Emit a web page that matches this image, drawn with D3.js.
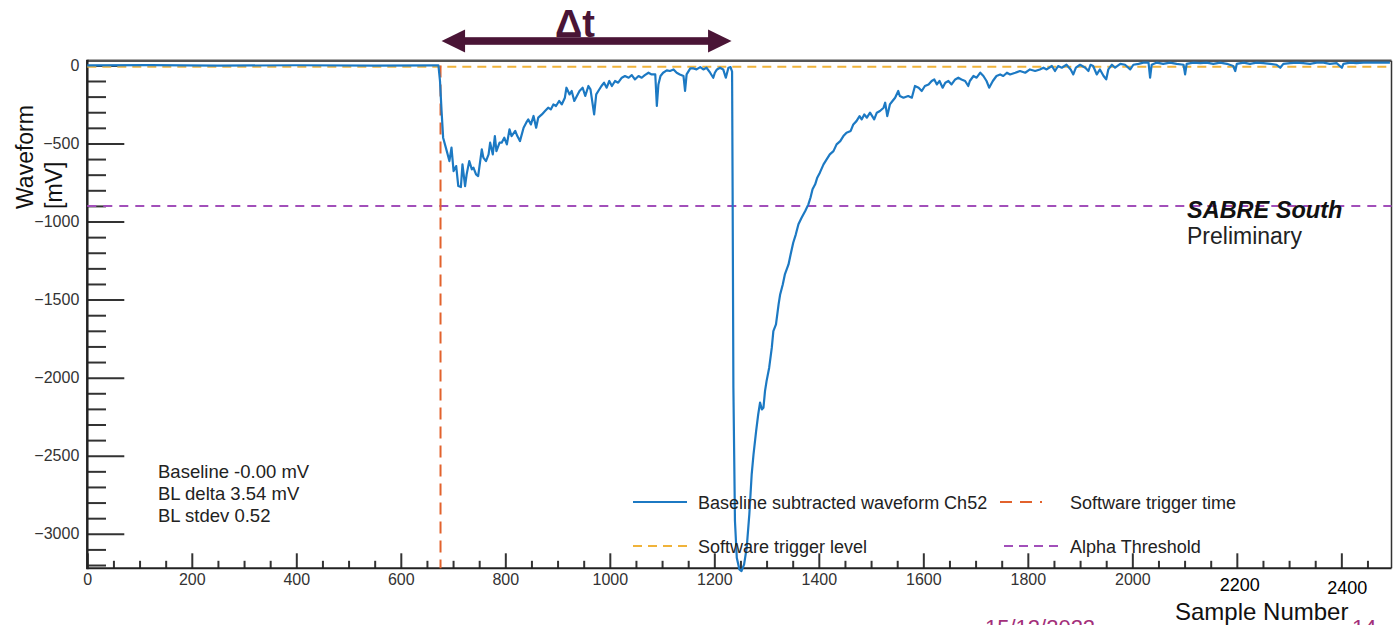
<!DOCTYPE html>
<html>
<head>
<meta charset="utf-8">
<script src="https://cdn.jsdelivr.net/npm/d3@7"></script>
<style>
  body { margin: 0; background: #fff; }
  svg { display: block; }
  text { font-family: "Liberation Sans", Arial, Helvetica, sans-serif; }
</style>
</head>
<body>
<svg id="chart" width="1399" height="625"></svg>
<script>
// waveform (sample number, mV)
var sampleNumber = [
  0, 120, 250, 400, 550, 668, 672,
  675, 678, 681, 688, 693, 697, 701, 706, 710, 715, 718, 723, 726, 731, 736, 739, 744, 748,
  755, 758, 763, 768, 771, 776, 780, 783, 789, 793, 798, 803, 808, 812, 819, 823, 828, 835,
  840, 844, 849, 854, 859, 863, 870, 876, 882, 887, 892, 897, 903, 908, 914, 917, 923, 927,
  932, 937, 942, 948, 953, 959, 963, 970, 974, 978, 984, 989, 994, 999, 1004, 1010, 1016,
  1023, 1029, 1036, 1042, 1048, 1055, 1061, 1067, 1074, 1080, 1087, 1090, 1093, 1097, 1102,
  1109, 1115, 1122, 1128, 1134, 1141, 1144, 1147, 1154, 1160, 1166, 1173, 1179, 1185, 1192,
  1198, 1201, 1205, 1211, 1217, 1222, 1227, 1231, 1234,
  1235, 1236.5, 1239.5, 1243, 1248, 1252, 1257, 1262, 1267, 1271.5, 1275, 1280, 1284, 1287.5,
  1291, 1294, 1297, 1300, 1305, 1310, 1313, 1318, 1323, 1326, 1331, 1335, 1342, 1346, 1351,
  1356, 1361, 1367, 1374, 1380, 1384, 1388, 1393, 1397, 1402, 1409, 1415, 1421, 1428, 1434,
  1441, 1447, 1453, 1461, 1466, 1472, 1478, 1482, 1487, 1492, 1498, 1506, 1511, 1517, 1524,
  1527, 1531, 1536, 1541, 1546, 1552,
  1555, 1562, 1571, 1578, 1584, 1591, 1597, 1603, 1610, 1616, 1621, 1626, 1631, 1637, 1642,
  1648, 1654, 1661, 1667, 1673, 1680, 1686, 1689, 1696, 1702, 1709, 1715, 1721, 1726, 1733,
  1740, 1747, 1753, 1760, 1766, 1776, 1785, 1795, 1804, 1814, 1823, 1830, 1836, 1846, 1852,
  1858, 1865, 1874, 1882, 1887, 1892, 1900, 1910, 1916, 1920, 1925, 1932, 1938, 1945, 1950,
  1954, 1961, 1967, 1977, 1986, 1996, 2002, 2012, 2021, 2031, 2034, 2037, 2047, 2059, 2072,
  2085, 2098, 2101, 2104, 2117, 2130, 2142, 2155, 2168, 2181, 2193, 2197, 2200, 2213, 2225,
  2238, 2251, 2264, 2276, 2283, 2289, 2302, 2315, 2327, 2340, 2353, 2366, 2378, 2391, 2401,
  2404, 2417, 2429, 2442, 2455, 2468, 2481, 2493
];
var waveformMV = [
  0, 2, -2, 1, -1, 0, 0,
  -100, -292, -463, -549, -613, -527, -677, -645, -773, -779, -634, -773, -698, -613, -666, -655, -698, -709,
  -538, -591, -613, -570, -495, -570, -453, -549, -495, -495, -463, -506, -410, -453, -420, -453, -485, -399,
  -367, -346, -378, -324, -399, -335, -314, -292, -271, -282, -250, -260, -228, -250, -207, -143, -186, -164,
  -228, -196, -164, -143, -196, -132, -154, -314, -186, -164, -132, -111, -143, -100, -132, -100, -111,
  -79, -68, -79, -62, -90, -68, -79, -62, -47, -58, -58, -260, -122, -68, -47,
  -32, -36, -26, -47, -58, -68, -164, -58, -19, -19, -26, -11, -26, -15, -47,
  -79, -47, -26, -15, -26, -79, -15, -11, -40,
  -783, -2065, -2918, -3153, -3228, -3239, -3196, -3089, -2876, -2620, -2492, -2342, -2235, -2160,
  -2203, -2193, -2086, -2022, -1936, -1808, -1702, -1659, -1531, -1467, -1403, -1339, -1275, -1211, -1136,
  -1082, -1018, -976, -933, -890, -848, -794, -762, -719, -687, -634, -602, -570, -549, -506,
  -485, -453, -431, -420, -378, -357, -325, -346, -314, -335, -303, -346, -303, -292, -271,
  -239, -325, -250, -228, -207, -164,
  -196, -207, -196, -207, -132, -143, -164, -132, -122, -100, -90, -122, -100, -143, -111,
  -100, -122, -90, -79, -90, -100, -132, -100, -68, -79, -47, -68, -100, -143, -100,
  -68, -58, -68, -47, -58, -47, -36, -47, -26, -36, -26, -15, -26, -4, -36,
  -4, -15, 4, -26, -58, -15, 4, -15, -36, 4, -4, -58, -26, -68, -90,
  -26, 4, -15, 10, 4, -26, 4, 10, 18, 18, -79, 4, 18, 10, 18,
  10, 4, -58, 10, 18, 14, 18, 10, 18, 10, -4, -36, 10, 18, 10,
  18, 14, 10, 4, -15, 10, 14, 18, 14, 10, 18, 18, 10, 14, -15,
  10, 18, 14, 18, 18, 18, 18, 18
];

var xTicks = [0, 200, 400, 600, 800, 1000, 1200, 1400, 1600, 1800, 2000, 2200, 2400];
var xLabelled = [0, 200, 400, 600, 800, 1000, 1200, 1400, 1600, 1800, 2000];
var xExtraLabels = [2200, 2400];
var yTicks = [0, -500, -1000, -1500, -2000, -2500, -3000];

var triggerTime = 676;
var triggerLevel = -8;
var alphaThreshold = -900;
var deltaT = [678, 1233];

var statsLines = ["Baseline -0.00 mV", "BL delta 3.54 mV", "BL stdev 0.52"];
var legendLabels = ["Baseline subtracted waveform Ch52", "Software trigger time",
                    "Software trigger level", "Alpha Threshold"];

var blue = "#1c79c3", orange = "#e2622c", yellow = "#f0b33a", purple = "#a24fba";

var svg = d3.select("#chart");

var x = d3.scaleLinear().domain([0, 2496]).range([87.3, 1391.5]);
var y = d3.scaleLinear().domain([30, -3221]).range([60.7, 568.3]);

// y axis, ticks pointing into the frame
var yMinor = d3.range(0, -3201, -100).filter(function(v) { return v % 500 != 0; });
svg.append("g")
  .attr("transform", "translate(" + x(0) + ",0)")
  .call(d3.axisLeft(y).tickValues(yMinor).tickSize(-18.7).tickFormat(""))
  .call(function(g) { g.select(".domain").remove(); })
  .selectAll("line").attr("stroke", "#333").attr("stroke-width", 2);

var yAx = svg.append("g")
  .attr("transform", "translate(" + x(0) + ",0)")
  .call(d3.axisLeft(y).tickValues(yTicks).tickSize(-37).tickPadding(8)
    .tickFormat(function(d) { return d == 0 ? "0" : "\u2212" + Math.abs(d); }));
yAx.select(".domain").remove();
yAx.selectAll("line").attr("stroke", "#333").attr("stroke-width", 2);
yAx.selectAll("text").attr("font-size", 16).attr("fill", "#333")
  .attr("font-family", "'Liberation Sans', Arial, sans-serif");

// x axis
var xMinor = d3.range(0, 2451, 50).filter(function(v) { return v % 200 != 0; });
svg.append("g")
  .attr("transform", "translate(0," + y(-3221) + ")")
  .call(d3.axisBottom(x).tickValues(xMinor).tickSize(-7.5).tickFormat(""))
  .call(function(g) { g.select(".domain").remove(); })
  .selectAll("line").attr("stroke", "#333").attr("stroke-width", 2);

var xAx = svg.append("g")
  .attr("transform", "translate(0," + y(-3221) + ")")
  .call(d3.axisBottom(x).tickValues(xTicks).tickSize(-15).tickPadding(5)
    .tickFormat(function(d) { return xLabelled.indexOf(d) > -1 ? d : ""; }));
xAx.select(".domain").remove();
xAx.selectAll("line").attr("stroke", "#333").attr("stroke-width", 2);
xAx.selectAll("text").attr("font-size", 16).attr("fill", "#333")
  .attr("font-family", "'Liberation Sans', Arial, sans-serif");

svg.selectAll(".extraLabel")
  .data(xExtraLabels)
  .enter().append("text")
  .attr("class", "extraLabel")
  .attr("x", function(d, i) { return x(d) + (i == 0 ? 3 : 6); })
  .attr("y", function(d, i) { return i == 0 ? 591 : 594; })
  .attr("text-anchor", "middle")
  .attr("font-size", 18)
  .attr("fill", "#000")
  .text(function(d) { return d; });

// frame
var fx0 = x(0), fx1 = x(2496), fy0 = y(30), fy1 = y(-3221);
svg.append("line").attr("x1", fx0).attr("x2", fx1).attr("y1", fy0).attr("y2", fy0)
  .attr("stroke", "#555").attr("stroke-width", 2.5);
svg.append("line").attr("x1", fx1).attr("x2", fx1).attr("y1", fy0).attr("y2", fy1)
  .attr("stroke", "#333").attr("stroke-width", 1.5);
svg.append("line").attr("x1", fx0).attr("x2", fx1).attr("y1", fy1).attr("y2", fy1)
  .attr("stroke", "#222").attr("stroke-width", 2);
svg.append("line").attr("x1", fx0).attr("x2", fx0).attr("y1", fy0 - 1).attr("y2", fy1 + 1)
  .attr("stroke", "#222").attr("stroke-width", 2.5);

// reference lines
svg.append("line")
  .attr("x1", fx0).attr("x2", fx1).attr("y1", y(triggerLevel)).attr("y2", y(triggerLevel))
  .attr("stroke", yellow).attr("stroke-width", 2).attr("stroke-dasharray", "9,6");
svg.append("line")
  .attr("x1", fx0).attr("x2", fx1).attr("y1", y(alphaThreshold)).attr("y2", y(alphaThreshold))
  .attr("stroke", purple).attr("stroke-width", 2).attr("stroke-dasharray", "9,7");
svg.append("line")
  .attr("x1", x(triggerTime)).attr("x2", x(triggerTime)).attr("y1", y(0)).attr("y2", fy1)
  .attr("stroke", orange).attr("stroke-width", 2).attr("stroke-dasharray", "12,7");

// waveform
var pts = sampleNumber.map(function(s, i) { return [s, waveformMV[i]]; });
svg.append("path")
  .datum(pts)
  .attr("fill", "none")
  .attr("stroke", blue)
  .attr("stroke-width", 2.2)
  .attr("stroke-linejoin", "round")
  .attr("d", d3.line().x(function(d) { return x(d[0]); }).y(function(d) { return y(d[1]); }));

// stats box text
svg.selectAll(".stat")
  .data(statsLines)
  .enter().append("text")
  .attr("class", "stat")
  .attr("x", 158)
  .attr("y", function(d, i) { return 478 + i * 22; })
  .attr("font-size", 18.5)
  .attr("fill", "#222")
  .text(function(d) { return d; });

// legend
var legend = [
  {label: legendLabels[0], color: blue, dash: null, lx: 633, ly: 502},
  {label: legendLabels[1], color: orange, dash: "12,8,12,8,2,40", lx: 1000, ly: 502},
  {label: legendLabels[2], color: yellow, dash: "9,6", lx: 633, ly: 546},
  {label: legendLabels[3], color: purple, dash: "9,6", lx: 1004, ly: 546}
];
var lg = svg.selectAll(".leg").data(legend).enter().append("g").attr("class", "leg");
lg.append("line")
  .attr("x1", function(d) { return d.lx; })
  .attr("x2", function(d) { return d.lx < 800 ? 687 : 1058; })
  .attr("y1", function(d) { return d.ly; })
  .attr("y2", function(d) { return d.ly; })
  .attr("stroke", function(d) { return d.color; })
  .attr("stroke-width", 2)
  .attr("stroke-dasharray", function(d) { return d.dash; });
lg.append("text")
  .attr("x", function(d) { return d.lx < 800 ? 698 : 1070; })
  .attr("y", function(d) { return d.ly + 6.5; })
  .attr("font-size", 18)
  .attr("fill", "#222")
  .text(function(d) { return d.label; });

// SABRE South label
svg.append("text").attr("x", 1187).attr("y", 218)
  .attr("font-size", 23.5).attr("font-weight", "bold").attr("font-style", "italic")
  .attr("fill", "#111").text("SABRE South");
svg.append("text").attr("x", 1187).attr("y", 244)
  .attr("font-size", 23).attr("fill", "#222").text("Preliminary");

// axis titles
svg.append("text").attr("transform", "translate(33,209) rotate(-90)")
  .attr("font-size", 23).attr("fill", "#111").text("Waveform");
svg.append("text").attr("transform", "translate(62,209) rotate(-90)")
  .attr("font-size", 23).attr("fill", "#111").text("[mV]");
svg.append("text").attr("x", 1175).attr("y", 620)
  .attr("font-size", 24).attr("fill", "#111").text("Sample Number");

// delta t arrow
var ac = "#4a1536", ay = 41, ah = 11.5, al = 23.5;
var ax0 = x(deltaT[0]), ax1 = x(deltaT[1]);
svg.append("rect").attr("x", ax0 + al - 1).attr("y", ay - 3.8)
  .attr("width", ax1 - ax0 - 2 * al + 2).attr("height", 7.6).attr("fill", ac);
svg.append("path").attr("fill", ac)
  .attr("d", "M" + ax0 + "," + ay + "L" + (ax0 + al) + "," + (ay - ah) + "L" + (ax0 + al) + "," + (ay + ah) + "Z");
svg.append("path").attr("fill", ac)
  .attr("d", "M" + ax1 + "," + ay + "L" + (ax1 - al) + "," + (ay - ah) + "L" + (ax1 - al) + "," + (ay + ah) + "Z");
svg.append("text").attr("x", 575).attr("y", 37)
  .attr("text-anchor", "middle").attr("font-size", 38).attr("font-weight", "bold")
  .attr("font-family", "'Liberation Serif', 'DejaVu Serif', serif")
  .attr("fill", ac).text("\u0394t");

// date text, cut by the bottom edge as in the picture
svg.append("text").attr("x", 985).attr("y", 635)
  .attr("font-size", 22).attr("fill", "#a3307a").text("15/12/2022");
svg.append("text").attr("x", 1352).attr("y", 635)
  .attr("font-size", 22).attr("fill", "#a3307a").text("14");
</script>
</body>
</html>
